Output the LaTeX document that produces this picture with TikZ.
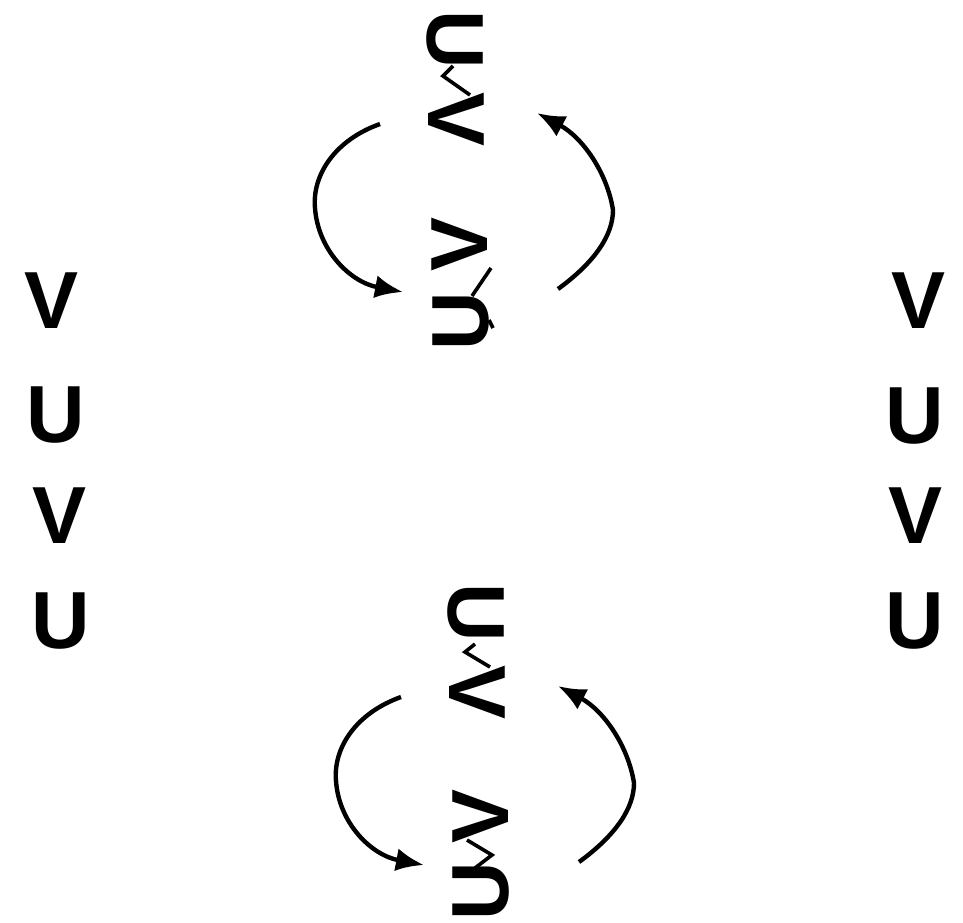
\documentclass[tikz,border=0pt]{standalone}
\usepackage{fontspec}
\setmainfont{Liberation Sans}
\usetikzlibrary{arrows.meta}
\tikzset{
  letter/.style={inner sep=0pt, font=\fontsize{81}{81}\selectfont\bfseries},
  arc/.style={line width=4.4pt, -{Latex[length=28pt,width=23pt]}},
  zig/.style={line width=3.6pt, line join=miter}
}
\begin{document}
\begin{tikzpicture}[x=1pt,y=-1pt]
\useasboundingbox (0,0) rectangle (963,922);
% left column
\node[letter] (l1) at (52,301) {V};
\node[letter] (l2) at (56,415) {U};
\node[letter] (l3) at (60,516) {V};
\node[letter] (l4) at (61,621) {U};
% right column
\node[letter] (r1) at (918,301) {V};
\node[letter] (r2) at (915,416) {U};
\node[letter] (r3) at (915,516) {V};
\node[letter] (r4) at (915,621) {U};
% top cluster
\node[letter, rotate=-90] (tU1) at (455,40) {U};
\node[letter, rotate=-90] (tV1) at (456,120) {V};
\node[letter, rotate=90] (tV2) at (460,244) {V};
\node[letter, rotate=90] (tU2) at (461,321) {U};
\coordinate (ta1) at (380,124);
\coordinate (ta2) at (403,292);
\coordinate (tb1) at (558,289);
\coordinate (tb2) at (537,113);
\draw[arc] (ta1) .. controls (335,140) and (312,175) .. (315,208) .. controls (318,250) and (350,282) .. (ta2);
\draw[arc] (tb1) .. controls (595,262) and (613,235) .. (613,210) .. controls (607,172) and (582,137) .. (tb2);
\draw[zig] (453,66) -- (443,76) -- (470,95);
\draw[zig] (491,268) -- (472,296);
\draw[zig] (489,320) -- (493,328);
% bottom cluster
\node[letter, rotate=-90] (bU1) at (476,613) {U};
\node[letter, rotate=-90] (bV1) at (477,692) {V};
\node[letter, rotate=90] (bV2) at (481,816) {V};
\node[letter, rotate=90] (bU2) at (481,891) {U};
\coordinate (ba1) at (401,697);
\coordinate (ba2) at (424,865);
\coordinate (bb1) at (579,862);
\coordinate (bb2) at (558,686);
\draw[arc] (ba1) .. controls (356,713) and (333,748) .. (336,781) .. controls (339,823) and (371,855) .. (ba2);
\draw[arc] (bb1) .. controls (616,835) and (634,808) .. (634,783) .. controls (628,745) and (603,710) .. (bb2);
\draw[zig] (475,644) -- (465,652) -- (490,667);
\draw[zig] (467,840) -- (492,855) -- (475,868);
\end{tikzpicture}
\end{document}
